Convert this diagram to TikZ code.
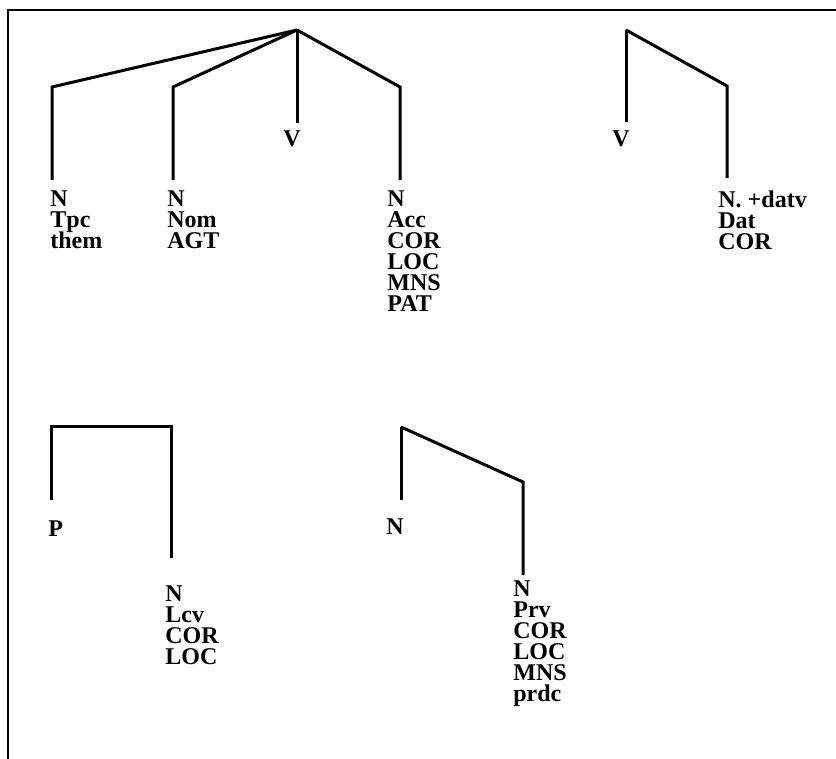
\documentclass[tikz,border=0pt]{standalone}
\usepackage{fontspec}
\setmainfont{Liberation Serif}
\newcommand\labfont{\bfseries\fontsize{12}{10.5}\selectfont\lineskiplimit=-20pt\relax}
\begin{document}
\begin{tikzpicture}[x=0.5pt, y=-0.5pt,
    edge/.style={line width=1.5pt, line join=miter},
    lab/.style={anchor=north west, inner sep=0pt, align=left, font=\labfont}]
    \useasboundingbox (0,0) rectangle (836,759);
    % open frame, left and top only
    \draw[line width=1pt] (8,759) -- (8,10) -- (836,10);

    % verb frame with four slots
    \coordinate (r1) at (297,30);
    \coordinate (k1) at (52,87);
    \coordinate (k2) at (173,87);
    \coordinate (k3) at (400,87);
    \node[lab] (n1) at (50,190) {N\\Tpc\\them};
    \node[lab] (n2) at (167,190) {N\\Nom\\AGT};
    \node[lab, anchor=north] (v1) at (292,130) {V};
    \node[lab] (n3) at (387,190) {N\\Acc\\COR\\LOC\\MNS\\PAT};
    \draw[edge, shorten >=5pt] (r1) -- (k1) -- (k1 |- n1.north);
    \draw[edge, shorten >=5pt] (r1) -- (k2) -- (k2 |- n2.north);
    \draw[edge, shorten >=3.5pt] (r1) -- (r1 |- v1.north);
    \draw[edge, shorten >=5pt] (r1) -- (k3) -- (k3 |- n3.north);

    % dative slot
    \coordinate (r2) at (626,30);
    \coordinate (k4) at (727,86);
    \node[lab, anchor=north] (v2) at (621,130) {V};
    \node[lab] (n4) at (718,190) {N. +datv\\Dat\\COR};
    \draw[edge, shorten >=4pt] (r2) -- (r2 |- v2.north);
    \draw[edge, shorten >=6pt] (r2) -- (k4) -- (k4 |- n4.north);

    % postposition
    \coordinate (k5) at (51,427);
    \coordinate (k6) at (171,427);
    \node[lab] (p1) at (48,520) {P};
    \node[lab] (n5) at (165,585) {N\\Lcv\\COR\\LOC};
    \draw[edge, shorten <=10pt, shorten >=13.5pt] (k5 |- p1.north) -- (k5) -- (k6) -- (k6 |- n5.north);

    % noun with predicate
    \coordinate (r3) at (401,427);
    \coordinate (k7) at (523,482);
    \node[lab] (n6) at (386,518) {N};
    \node[lab] (n7) at (513,580) {N\\Prv\\COR\\LOC\\MNS\\prdc};
    \draw[edge, shorten >=9pt] (r3) -- (r3 |- n6.north);
    \draw[edge, shorten >=2.5pt] (r3) -- (k7) -- (k7 |- n7.north);
\end{tikzpicture}
\end{document}
